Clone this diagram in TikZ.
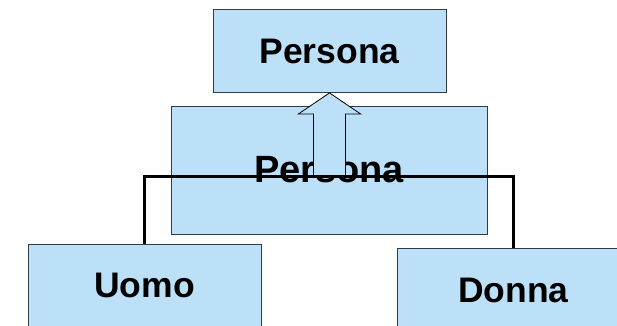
\documentclass[tikz,border=0pt]{standalone}
\usepackage{fontspec}
\setmainfont{Liberation Sans}
\usetikzlibrary{positioning}

\definecolor{boxblue}{RGB}{187,224,247}
\definecolor{boxline}{RGB}{50,60,68}

\begin{document}
\begin{tikzpicture}[
  x=1pt, y=-1pt,
  class/.style={draw=boxline, fill=boxblue, line width=0.8pt,
                minimum width=233pt, minimum height=83pt, inner sep=0pt,
                font=\fontsize{35.5}{40}\selectfont\bfseries},
  link/.style={line width=3pt, black},
  blockarrow/.style={draw=black, fill=boxblue, line width=0.8pt, line join=miter},
]
  \useasboundingbox (0,0) rectangle (617,325);
  \clip (0,0) rectangle (617,325);

  \node[class] (persona) at (329.5,51) {Persona};
  \node[class, minimum width=316pt, minimum height=128pt,
        font=\fontsize{38}{44}\selectfont\bfseries] (abstract) at (329,170) {Persona};

  % freccia di ereditarieta
  \coordinate (tip) at (persona.south);
  \coordinate (bar) at (329,176);
  \draw[blockarrow] (tip) -- ++(31,21) -- ++(-15,0) -- ++(0,62) -- ++(-32,0)
    -- ++(0,-62) -- ++(-15,0) -- cycle;

  \node[class] (uomo) at (144.5,285.5) {Uomo};
  \node[class] (donna) at (513.5,290) {Donna};

  \draw[link] (uomo.north) |- (bar) -| (donna.north);
\end{tikzpicture}
\end{document}
